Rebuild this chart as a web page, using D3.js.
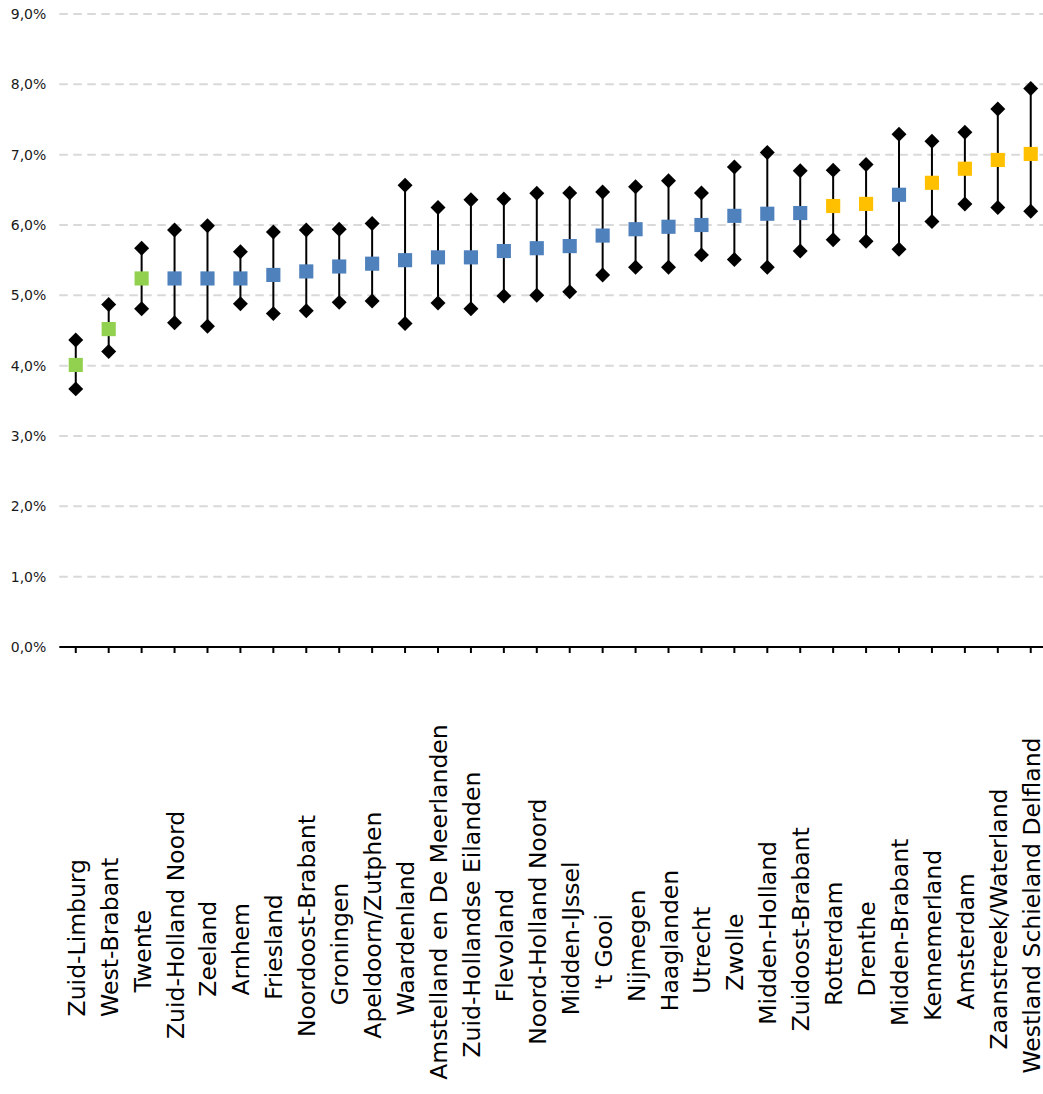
<!DOCTYPE html>
<html>
<head>
<meta charset="utf-8">
<script src="https://cdn.jsdelivr.net/npm/d3@7"></script>
<style>
  html, body { margin: 0; padding: 0; background: #fff; }
  svg { display: block; }
</style>
</head>
<body>
<svg id="chart" width="1043" height="1094"></svg>
<script>
// Regio's, gesorteerd op het geschatte percentage
const categories = [
  "Zuid-Limburg", "West-Brabant", "Twente", "Zuid-Holland Noord", "Zeeland",
  "Arnhem", "Friesland", "Noordoost-Brabant", "Groningen", "Apeldoorn/Zutphen",
  "Waardenland", "Amstelland en De Meerlanden", "Zuid-Hollandse Eilanden", "Flevoland",
  "Noord-Holland Noord", "Midden-IJssel", "'t Gooi", "Nijmegen", "Haaglanden",
  "Utrecht", "Zwolle", "Midden-Holland", "Zuidoost-Brabant", "Rotterdam", "Drenthe",
  "Midden-Brabant", "Kennemerland", "Amsterdam", "Zaanstreek/Waterland",
  "Westland Schieland Delfland"
];

// Puntschatting (%)
const estimate = [
  4.01, 4.52, 5.24, 5.24, 5.24, 5.24, 5.29, 5.34, 5.41, 5.45,
  5.50, 5.54, 5.54, 5.63, 5.67, 5.70, 5.85, 5.94, 5.975, 6.00,
  6.13, 6.16, 6.17, 6.27, 6.30, 6.43, 6.60, 6.80, 6.925, 7.01
];

// Bovengrens van het betrouwbaarheidsinterval (%)
const upper = [
  4.365, 4.87, 5.67, 5.93, 5.99, 5.62, 5.90, 5.93, 5.94, 6.02,
  6.565, 6.25, 6.36, 6.37, 6.45, 6.455, 6.47, 6.545, 6.63, 6.455,
  6.825, 7.03, 6.77, 6.78, 6.86, 7.29, 7.19, 7.32, 7.65, 7.94
];

// Ondergrens van het betrouwbaarheidsinterval (%)
const lower = [
  3.67, 4.20, 4.81, 4.61, 4.56, 4.88, 4.74, 4.78, 4.90, 4.92,
  4.60, 4.89, 4.81, 4.99, 5.00, 5.05, 5.29, 5.40, 5.40, 5.575,
  5.51, 5.40, 5.63, 5.79, 5.77, 5.655, 6.05, 6.30, 6.25, 6.195
];

// Groep per regio: laag / gemiddeld / hoog
const groups = [
  "laag", "laag", "laag", "gemiddeld", "gemiddeld", "gemiddeld", "gemiddeld", "gemiddeld",
  "gemiddeld", "gemiddeld", "gemiddeld", "gemiddeld", "gemiddeld", "gemiddeld", "gemiddeld",
  "gemiddeld", "gemiddeld", "gemiddeld", "gemiddeld", "gemiddeld", "gemiddeld", "gemiddeld",
  "gemiddeld", "hoog", "hoog", "gemiddeld", "hoog", "hoog", "hoog", "hoog"
];

const yTickValues = [0, 1, 2, 3, 4, 5, 6, 7, 8, 9];

const groupColor = d3.scaleOrdinal()
  .domain(["laag", "gemiddeld", "hoog"])
  .range(["#92D050", "#4F81BD", "#FFC000"]);

const rows = categories.map((name, i) => ({
  name, est: estimate[i], hi: upper[i], lo: lower[i], group: groups[i]
}));

const svg = d3.select("#chart");
const left = 59.3, plotRight = 1047.2, W = 1043;
const x = d3.scaleBand().domain(categories).range([left, plotRight]);
const y = d3.scaleLinear().domain([0, 9]).range([647, 14]);
const cx = name => x(name) + x.bandwidth() / 2;
const font = "'DejaVu Sans', Verdana, sans-serif";

// Horizontale hulplijnen
svg.append("g")
  .selectAll("line")
  .data(yTickValues.filter(v => v > 0))
  .join("line")
  .attr("x1", left).attr("x2", W)
  .attr("y1", d => y(d)).attr("y2", d => y(d))
  .attr("stroke", "#d9d9d9")
  .attr("stroke-width", 2)
  .attr("stroke-dasharray", "8.5,5.5");

// Y-as labels
const yAxis = svg.append("g")
  .attr("transform", `translate(${left},0)`)
  .call(d3.axisLeft(y)
    .tickValues(yTickValues)
    .tickSize(0)
    .tickPadding(13)
    .tickFormat(d => d3.format(".1f")(d).replace(".", ",") + "%"));
yAxis.select(".domain").remove();
yAxis.selectAll("text")
  .attr("font-family", font)
  .attr("font-size", 14)
  .attr("fill", "#1a1a1a");

// X-as
const xAxis = svg.append("g")
  .attr("transform", `translate(0,${y(0)})`)
  .call(d3.axisBottom(x).tickSize(6).tickFormat(""));
xAxis.select(".domain")
  .attr("d", `M${left},0H${W}`)
  .attr("stroke", "#000")
  .attr("stroke-width", 2);
xAxis.selectAll(".tick line").attr("stroke", "#000").attr("stroke-width", 2);

// Categorienamen, 90 graden gedraaid; langere namen schuiven iets omhoog
svg.append("g")
  .selectAll("text")
  .data(categories)
  .join("text")
  .attr("text-anchor", "start")
  .attr("font-family", font)
  .attr("font-size", 23.5)
  .attr("fill", "#000")
  .text(d => d)
  .attr("transform", function (d) {
    const len = this.getComputedTextLength();
    const bottom = 966 + 0.32 * len;
    return `translate(${cx(d) + 9},${bottom}) rotate(-90)`;
  });

// Betrouwbaarheidsintervallen
const marks = svg.append("g");
marks.selectAll("line.range")
  .data(rows)
  .join("line")
  .attr("class", "range")
  .attr("x1", d => cx(d.name))
  .attr("x2", d => cx(d.name))
  .attr("y1", d => y(d.lo))
  .attr("y2", d => y(d.hi))
  .attr("stroke", "#000")
  .attr("stroke-width", 2);

const diamond = d3.symbol().type(d3.symbolSquare).size(112);
const bounds = rows.flatMap(d => [{ name: d.name, v: d.hi }, { name: d.name, v: d.lo }]);
marks.selectAll("path.bound")
  .data(bounds)
  .join("path")
  .attr("class", "bound")
  .attr("d", diamond)
  .attr("transform", d => `translate(${cx(d.name)},${y(d.v)}) rotate(45)`)
  .attr("fill", "#000");

// Puntschattingen
const square = d3.symbol().type(d3.symbolSquare).size(200);
marks.selectAll("path.est")
  .data(rows)
  .join("path")
  .attr("class", "est")
  .attr("d", square)
  .attr("transform", d => `translate(${cx(d.name)},${y(d.est)})`)
  .attr("fill", d => groupColor(d.group));
</script>
</body>
</html>
